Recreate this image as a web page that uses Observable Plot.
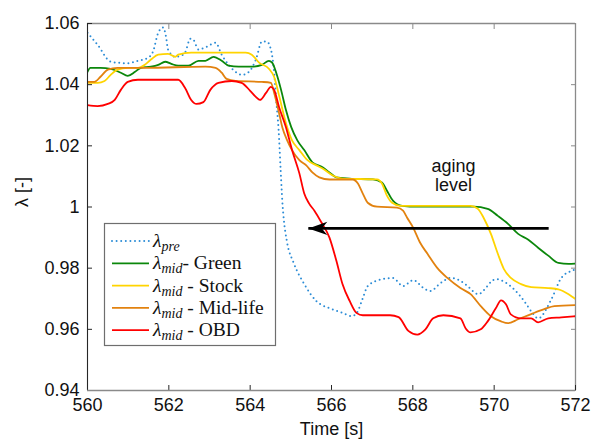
<!DOCTYPE html>
<html>
<head>
<meta charset="utf-8">
<script src="https://cdn.jsdelivr.net/npm/d3@7"></script>
<script src="https://cdn.jsdelivr.net/npm/@observablehq/plot@0.6"></script>
<style>
  html, body { margin: 0; padding: 0; background: #fff; }
  #chart { width: 592px; height: 441px; }
</style>
</head>
<body>
<div id="chart"></div>
<script>
// ---- data ----
const xTicks = [560, 562, 564, 566, 568, 570, 572];
const yTicks = [0.94, 0.96, 0.98, 1, 1.02, 1.04, 1.06];
const yTickLabels = ["0.94", "0.96", "0.98", "1", "1.02", "1.04", "1.06"];

const preT = [560.00,560.25,560.57,560.74,560.99,561.24,561.49,561.61,561.74,561.86,561.93,561.98,562.16,562.31,562.40,562.53,562.60,562.73,562.93,563.15,563.30,563.47,563.64,563.79,563.97,564.14,564.29,564.41,564.51,564.59,564.64,564.70,564.75,564.79,564.83,564.90,565.08,565.33,565.63,565.95,566.25,566.50,566.62,566.77,566.89,567.24,567.51,567.76,568.01,568.26,568.43,568.68,568.93,569.15,569.35,569.60,570.04,570.49,570.74,570.91,571.08,571.41,571.65,571.95,572.00];
const preL = [1.057,1.053,1.0475,1.0472,1.047,1.0478,1.0488,1.0508,1.057,1.0587,1.0557,1.0515,1.0491,1.0495,1.0505,1.055,1.0547,1.0515,1.0524,1.0537,1.0498,1.0465,1.0442,1.0432,1.0442,1.0482,1.0541,1.0541,1.0515,1.0439,1.035,1.025,1.012,1.002,0.9955,0.989,0.9814,0.9748,0.9692,0.9669,0.9655,0.9643,0.9653,0.9702,0.9741,0.9764,0.9768,0.9741,0.9761,0.9735,0.9725,0.9751,0.9768,0.976,0.9741,0.9715,0.9764,0.9731,0.9692,0.9659,0.9636,0.9699,0.9768,0.9794,0.9797];

const greenT = [560.00,560.07,560.32,560.57,560.82,560.99,561.17,561.31,561.56,561.74,561.91,562.06,562.23,562.48,562.73,562.90,563.10,563.30,563.47,563.72,564.04,564.29,564.46,564.54,564.64,564.76,564.88,565.01,565.16,565.33,565.53,565.78,565.95,566.12,566.45,567.02,567.24,567.36,567.51,567.74,568.11,569.50,569.84,570.09,570.34,570.59,570.84,571.08,571.33,571.58,571.83,572.00];
const greenL = [1.0442,1.0455,1.0455,1.0452,1.0439,1.0429,1.0442,1.0455,1.0459,1.0465,1.0475,1.0468,1.0462,1.0462,1.0478,1.0478,1.0491,1.0478,1.0462,1.0459,1.0459,1.0465,1.0478,1.0472,1.0439,1.0383,1.0317,1.0261,1.0218,1.0186,1.0146,1.013,1.0113,1.0097,1.0093,1.009,1.008,1.0054,1.0021,1.0004,1.0001,1.0001,0.9994,0.9971,0.9945,0.9912,0.9893,0.9867,0.9841,0.9817,0.9814,0.9815];

const stockT = [560.00,560.25,560.42,560.57,560.74,560.99,561.24,561.41,561.56,561.74,561.98,562.16,562.23,562.55,563.89,564.04,564.22,564.46,564.59,564.71,564.88,565.03,565.21,565.41,565.63,565.78,566.03,566.27,567.12,567.24,567.36,567.49,567.69,569.42,569.60,569.74,569.92,570.09,570.24,570.41,570.66,570.91,571.33,571.58,571.83,572.00];
const stockL = [1.0406,1.0406,1.0412,1.0432,1.0449,1.0455,1.0455,1.0465,1.0482,1.0498,1.0501,1.0491,1.0498,1.0505,1.0505,1.0498,1.0472,1.0452,1.0425,1.0365,1.0274,1.0218,1.0186,1.0153,1.0136,1.0126,1.0103,1.0093,1.009,1.0077,1.0038,1.0014,1.0004,1.0004,0.9994,0.9965,0.9912,0.9847,0.9797,0.9768,0.9748,0.9738,0.9735,0.9731,0.9715,0.9699];

const midT = [560.00,560.17,560.32,560.50,560.74,561.41,562.90,563.15,563.30,563.42,563.64,564.29,564.51,564.59,564.71,564.79,564.91,565.03,565.21,565.38,565.53,565.70,565.95,566.52,566.65,566.77,566.89,567.12,567.61,567.76,567.86,568.01,568.18,568.36,568.60,568.85,569.17,569.42,569.67,569.92,570.17,570.34,570.59,570.91,571.23,571.48,572.00];
const midL = [1.0409,1.0409,1.0426,1.0449,1.0455,1.0455,1.0459,1.0455,1.0439,1.0419,1.0412,1.0409,1.0406,1.0373,1.0307,1.0261,1.0218,1.0186,1.0153,1.0136,1.0113,1.0097,1.009,1.009,1.0077,1.0044,1.0014,1.0001,0.9998,0.9988,0.9965,0.9932,0.9883,0.9847,0.9801,0.9768,0.9735,0.9715,0.9676,0.9643,0.9626,0.962,0.9633,0.965,0.9666,0.9676,0.9679];

const obdT = [560.00,560.25,560.50,560.67,560.82,560.99,561.24,561.74,562.23,562.40,562.55,562.68,562.85,563.02,563.22,563.55,563.79,564.00,564.14,564.24,564.39,564.51,564.59,564.71,564.88,565.03,565.21,565.33,565.45,565.58,565.75,565.95,566.12,566.27,566.45,566.62,566.77,567.44,567.65,567.89,568.11,568.31,568.50,568.75,569.17,569.30,569.42,569.67,569.84,570.04,570.17,570.29,570.41,570.66,570.91,571.08,571.33,571.65,572.00];
const obdL = [1.0333,1.033,1.0337,1.035,1.0383,1.0409,1.0416,1.0416,1.0416,1.0389,1.035,1.0337,1.0343,1.0383,1.0406,1.0412,1.0406,1.038,1.036,1.035,1.0373,1.0393,1.0383,1.0327,1.0261,1.0186,1.011,1.0044,1.0011,0.9988,0.995,0.99,0.9824,0.9748,0.9692,0.9653,0.9646,0.9646,0.964,0.9595,0.9583,0.96,0.9636,0.9646,0.9636,0.9603,0.959,0.96,0.9626,0.9669,0.9695,0.9682,0.9649,0.9636,0.9636,0.9623,0.9636,0.9639,0.9643];

const seriesKeys = ["pre", "green", "stock", "mid", "obd"];
const seriesColors = ["#2b8cd6", "#0b870b", "#ffd400", "#e2820f", "#ff0000"];
const legendMain = ["", "- Green", " - Stock", " - Mid-life", " - OBD"];
const legendSub = ["pre", "mid", "mid", "mid", "mid"];

const arrowX = [571.34, 565.43];
const arrowY = [0.993, 0.993];
const noteX = [569.0];
const noteY = [1.0103];
const noteText = ["aging\nlevel"];

// ---- build tables ----
const toRows = (T, L) => T.map((t, i) => ({t, l: L[i]}));
const rows = {
  pre: toRows(preT, preL),
  green: toRows(greenT, greenL),
  stock: toRows(stockT, stockL),
  mid: toRows(midT, midL),
  obd: toRows(obdT, obdL)
};

const arrowHead = {
  draw(ctx) {
    ctx.moveTo(0, 0);
    ctx.lineTo(19, -6.7);
    ctx.lineTo(13.5, 0);
    ctx.lineTo(19, 6.7);
    ctx.closePath();
  }
};

const sans = "'Liberation Sans', Arial, Helvetica, sans-serif";
const serif = "'Liberation Serif', 'Times New Roman', serif";
const dark = "#262626";
const light = "#8a8a8a";

const lineMark = (k, i, extra = {}) => Plot.line(rows[k], Object.assign({
  x: "t", y: "l", stroke: seriesColors[i], strokeWidth: 1.8, curve: "monotone-x", clip: true
}, extra));

const chart = Plot.plot({
  width: 592,
  height: 441,
  marginLeft: 87,
  marginRight: 17,
  marginTop: 23,
  marginBottom: 51,
  style: {fontFamily: sans, fontSize: "18px", background: "#fff", color: dark},
  x: {domain: [560, 572]},
  y: {domain: [0.94, 1.06]},
  marks: [
    // frame (top / right)
    Plot.ruleX([xTicks[xTicks.length - 1]], {stroke: light, strokeWidth: 1.3}),
    Plot.ruleY([yTicks[yTicks.length - 1]], {stroke: light, strokeWidth: 1.3}),
    // inward ticks
    Plot.axisX({anchor: "bottom", ticks: xTicks, tickSize: -5, text: null, label: null, stroke: dark}),
    Plot.axisX({anchor: "top", ticks: xTicks, tickSize: -5, text: null, label: null, stroke: light}),
    Plot.axisY({anchor: "left", ticks: yTicks, tickSize: -5, text: null, label: null, stroke: dark}),
    Plot.axisY({anchor: "right", ticks: yTicks, tickSize: -5, text: null, label: null, stroke: light}),
    // tick labels
    Plot.axisX({anchor: "bottom", ticks: xTicks, tickSize: 0, tickPadding: 8, label: null, fontSize: 18, fill: "#111"}),
    Plot.axisY({anchor: "left", ticks: yTicks, tickSize: 0, tickPadding: 8, label: null, fontSize: 18, fill: "#111",
      tickFormat: d => yTickLabels[yTicks.indexOf(d)]}),
    // series
    lineMark("pre", 0, {strokeWidth: 2, strokeDasharray: "0 4.6", strokeLinecap: "round"}),
    lineMark("green", 1),
    lineMark("stock", 2),
    lineMark("mid", 3),
    lineMark("obd", 4),
    // annotation
    Plot.link([0], {x1: () => arrowX[0], y1: () => arrowY[0], x2: () => arrowX[1], y2: () => arrowY[1], stroke: "#000", strokeWidth: 2.8}),
    Plot.dot([0], {x: () => arrowX[1], y: () => arrowY[1], symbol: arrowHead, fill: "#000", stroke: null}),
    Plot.text(noteText, {x: () => noteX[0], y: () => noteY[0], text: d => d, fontSize: 18, lineHeight: 1.05, fill: "#111"}),
    // axis frame left / bottom
    Plot.ruleX([xTicks[0]], {stroke: dark, strokeWidth: 1.1}),
    Plot.ruleY([yTicks[0]], {stroke: light, strokeWidth: 1.3}),
    // axis titles
    Plot.text(["Time [s]"], {frameAnchor: "bottom", dy: 44, fontSize: 18, fill: "#111"}),
    Plot.text(["λ [-]"], {frameAnchor: "left", dx: -65, rotate: -90, fontSize: 18, fill: "#111"})
  ]
});

document.getElementById("chart").appendChild(chart);

// ---- legend (inside the plot area, lower left) ----
const svg = d3.select(chart);
const lg = svg.append("g").attr("class", "legend").attr("text-anchor", "start");
const box = {x: 104.5, y: 223.5, w: 171, h: 122};
lg.append("rect").attr("x", box.x).attr("y", box.y).attr("width", box.w).attr("height", box.h)
  .attr("fill", "#fff").attr("stroke", "#6e6e6e").attr("stroke-width", 1.2);
const rowY0 = 241, rowDy = 22.3;
seriesKeys.forEach((k, i) => {
  const y = rowY0 + i * rowDy;
  const ln = lg.append("line").attr("x1", 112).attr("x2", 149).attr("y1", y).attr("y2", y)
    .attr("stroke", seriesColors[i]).attr("stroke-width", i === 0 ? 2 : 1.8);
  if (i === 0) ln.attr("stroke-dasharray", "0 4.6").attr("stroke-linecap", "round");
  const t = lg.append("text").attr("x", 153).attr("y", y + 6).attr("text-anchor", "start")
    .attr("font-family", serif).attr("font-size", 19.5).attr("fill", "#111")
    .style("white-space", "pre");
  t.append("tspan").attr("font-style", "italic").text("λ");
  t.append("tspan").attr("font-style", "italic").attr("font-size", 14).attr("dy", 4).text(legendSub[i]);
  if (legendMain[i]) t.append("tspan").attr("dy", -4).text(legendMain[i]);
});
</script>
</body>
</html>
